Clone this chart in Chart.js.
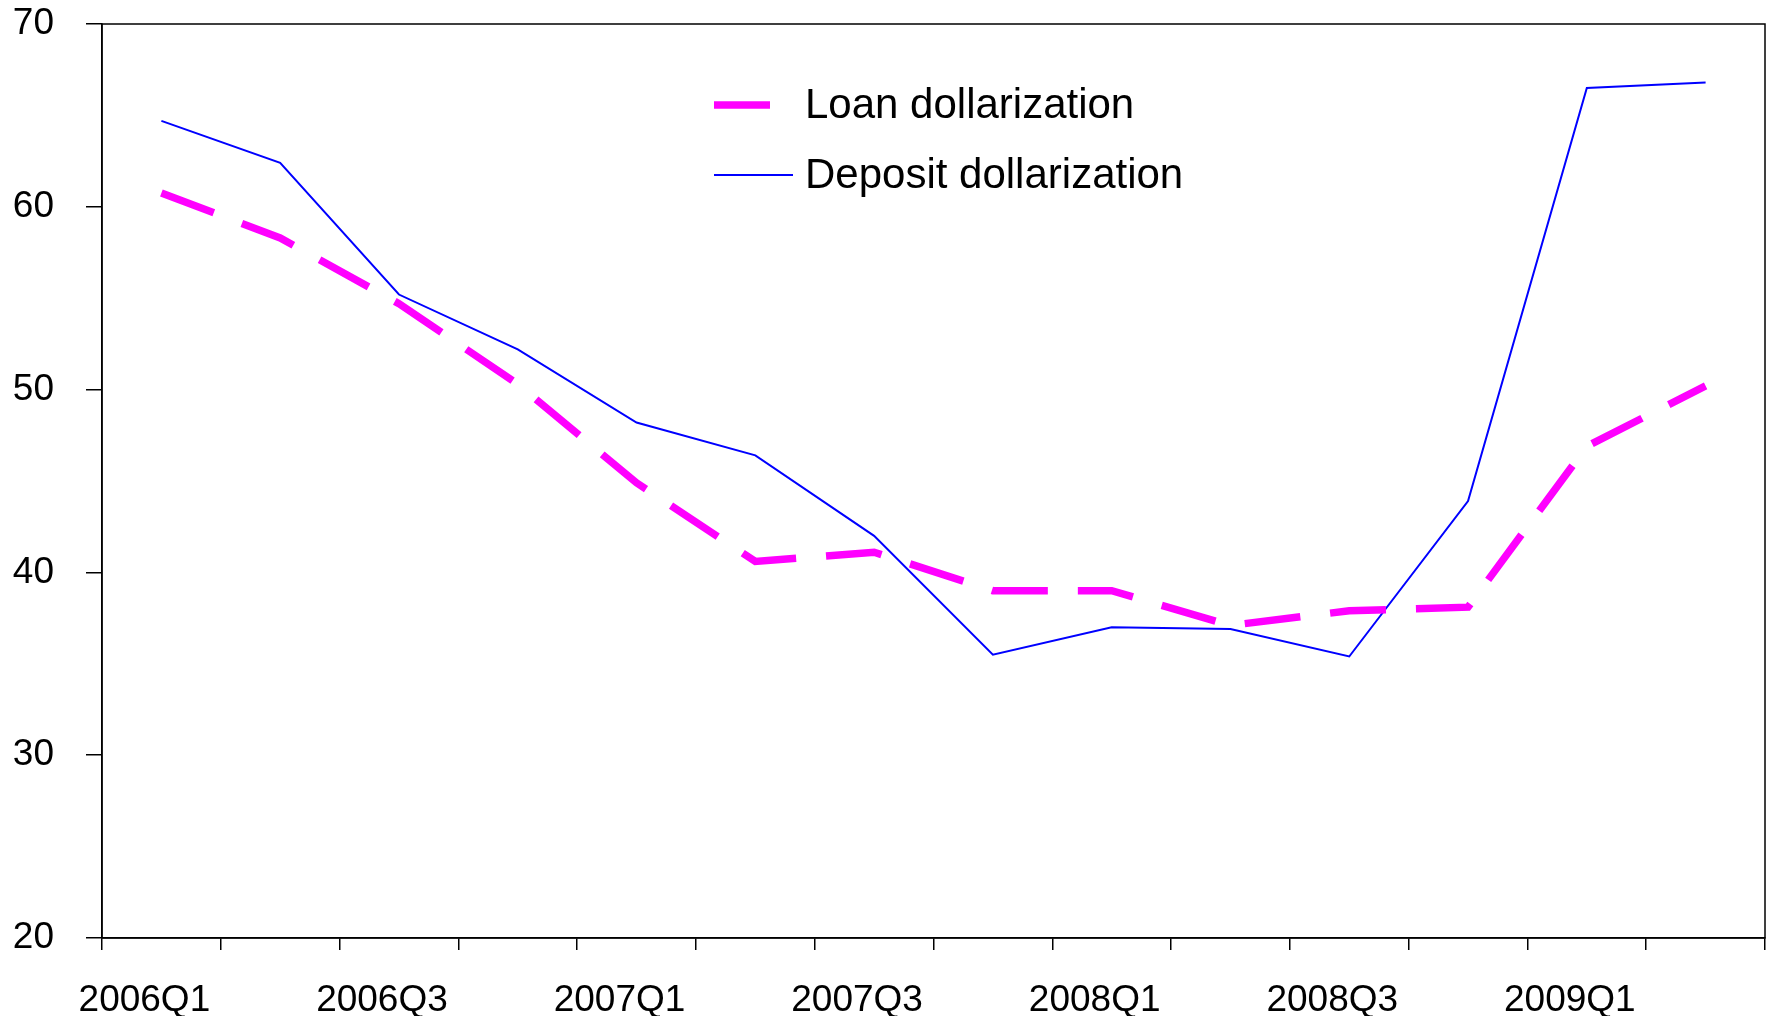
<!DOCTYPE html>
<html>
<head>
<meta charset="utf-8">
<title>Dollarization</title>
<script src="https://cdn.jsdelivr.net/npm/chart.js@4/dist/chart.umd.min.js"></script>
<style>
  html, body { margin: 0; padding: 0; background: #fff; }
  canvas { display: block; }
</style>
</head>
<body>
<canvas id="grafico" width="1772" height="1016"></canvas>
<script>
const quarters = [
  "2006Q1", "2006Q2", "2006Q3", "2006Q4",
  "2007Q1", "2007Q2", "2007Q3", "2007Q4",
  "2008Q1", "2008Q2", "2008Q3", "2008Q4",
  "2009Q1", "2009Q2"
];
const loanDollarization = [60.75, 58.3, 54.7, 50.3, 44.9, 40.6, 41.1, 39.0, 39.0, 37.1, 37.9, 38.1, 46.9, 50.2];
const depositDollarization = [64.7, 62.4, 55.2, 52.2, 48.2, 46.4, 42.0, 35.5, 37.0, 36.9, 35.4, 43.9, 66.5, 66.8];
const yTicks = [20, 30, 40, 50, 60, 70];

const FONT = "'Liberation Sans', Arial, sans-serif";

// frame around the plot area (top and right sides included)
const frame = {
  id: "frame",
  afterDraw(chart) {
    const { ctx, chartArea: a } = chart;
    ctx.save();
    ctx.strokeStyle = "#000";
    ctx.lineWidth = 1.5;
    ctx.strokeRect(a.left, a.top, a.right - a.left, a.bottom - a.top);
    ctx.restore();
  }
};

// legend drawn inside the plot, in the upper middle
const innerLegend = {
  id: "innerLegend",
  afterDraw(chart) {
    const ctx = chart.ctx;
    const x0 = 714, lineLen = 79, textX = 805;
    const rows = [105, 175];
    ctx.save();
    chart.data.datasets.forEach((ds, i) => {
      const y = rows[i];
      ctx.beginPath();
      ctx.strokeStyle = ds.borderColor;
      ctx.lineWidth = ds.borderWidth;
      ctx.setLineDash(ds.borderDash || []);
      ctx.lineCap = "butt";
      ctx.moveTo(x0, y);
      ctx.lineTo(x0 + lineLen, y);
      ctx.stroke();
      ctx.setLineDash([]);
      ctx.fillStyle = "#000";
      ctx.font = "42px " + FONT;
      ctx.textBaseline = "middle";
      ctx.textAlign = "left";
      ctx.fillText(ds.label, textX, y + 1);
    });
    ctx.restore();
  }
};

new Chart(document.getElementById("grafico"), {
  type: "line",
  data: {
    labels: quarters,
    datasets: [
      {
        label: "Loan dollarization",
        data: loanDollarization,
        borderColor: "#ff00ff",
        borderWidth: 7.5,
        borderDash: [56, 30],
        pointRadius: 0,
        tension: 0,
        fill: false
      },
      {
        label: "Deposit dollarization",
        data: depositDollarization,
        borderColor: "#0000ff",
        borderWidth: 2,
        pointRadius: 0,
        tension: 0,
        fill: false
      }
    ]
  },
  options: {
    responsive: false,
    animation: false,
    layout: { padding: { top: 24, right: 7, left: 0, bottom: 0 } },
    plugins: {
      legend: { display: false },
      tooltip: { enabled: false }
    },
    scales: {
      x: {
        offset: true,
        grid: {
          offset: true,
          drawOnChartArea: false,
          drawTicks: true,
          tickLength: 12,
          color: "#000",
          lineWidth: 1.5
        },
        border: { display: true, color: "#000", width: 1.5 },
        ticks: {
          autoSkip: false,
          maxRotation: 0,
          padding: 29,
          labelOffset: -17,
          color: "#000",
          font: { family: FONT, size: 37 },
          callback: function (value, index) {
            return index % 2 === 0 ? this.getLabelForValue(value) : "";
          }
        },
        afterFit(scale) {
          scale.height = 78;
          scale.paddingLeft = 0;
          scale.paddingRight = 0;
        }
      },
      y: {
        min: 20,
        max: 70,
        afterBuildTicks(scale) { scale.ticks = yTicks.map(v => ({ value: v })); },
        grid: {
          drawOnChartArea: false,
          drawTicks: true,
          tickLength: 16,
          color: "#000",
          lineWidth: 1.5
        },
        border: { display: true, color: "#000", width: 1.5 },
        ticks: {
          padding: 32,
          color: "#000",
          font: { family: FONT, size: 37 }
        },
        afterFit(scale) {
          scale.width = 102;
          scale.paddingTop = 0;
          scale.paddingBottom = 0;
        }
      }
    }
  },
  plugins: [frame, innerLegend]
});
</script>
</body>
</html>
